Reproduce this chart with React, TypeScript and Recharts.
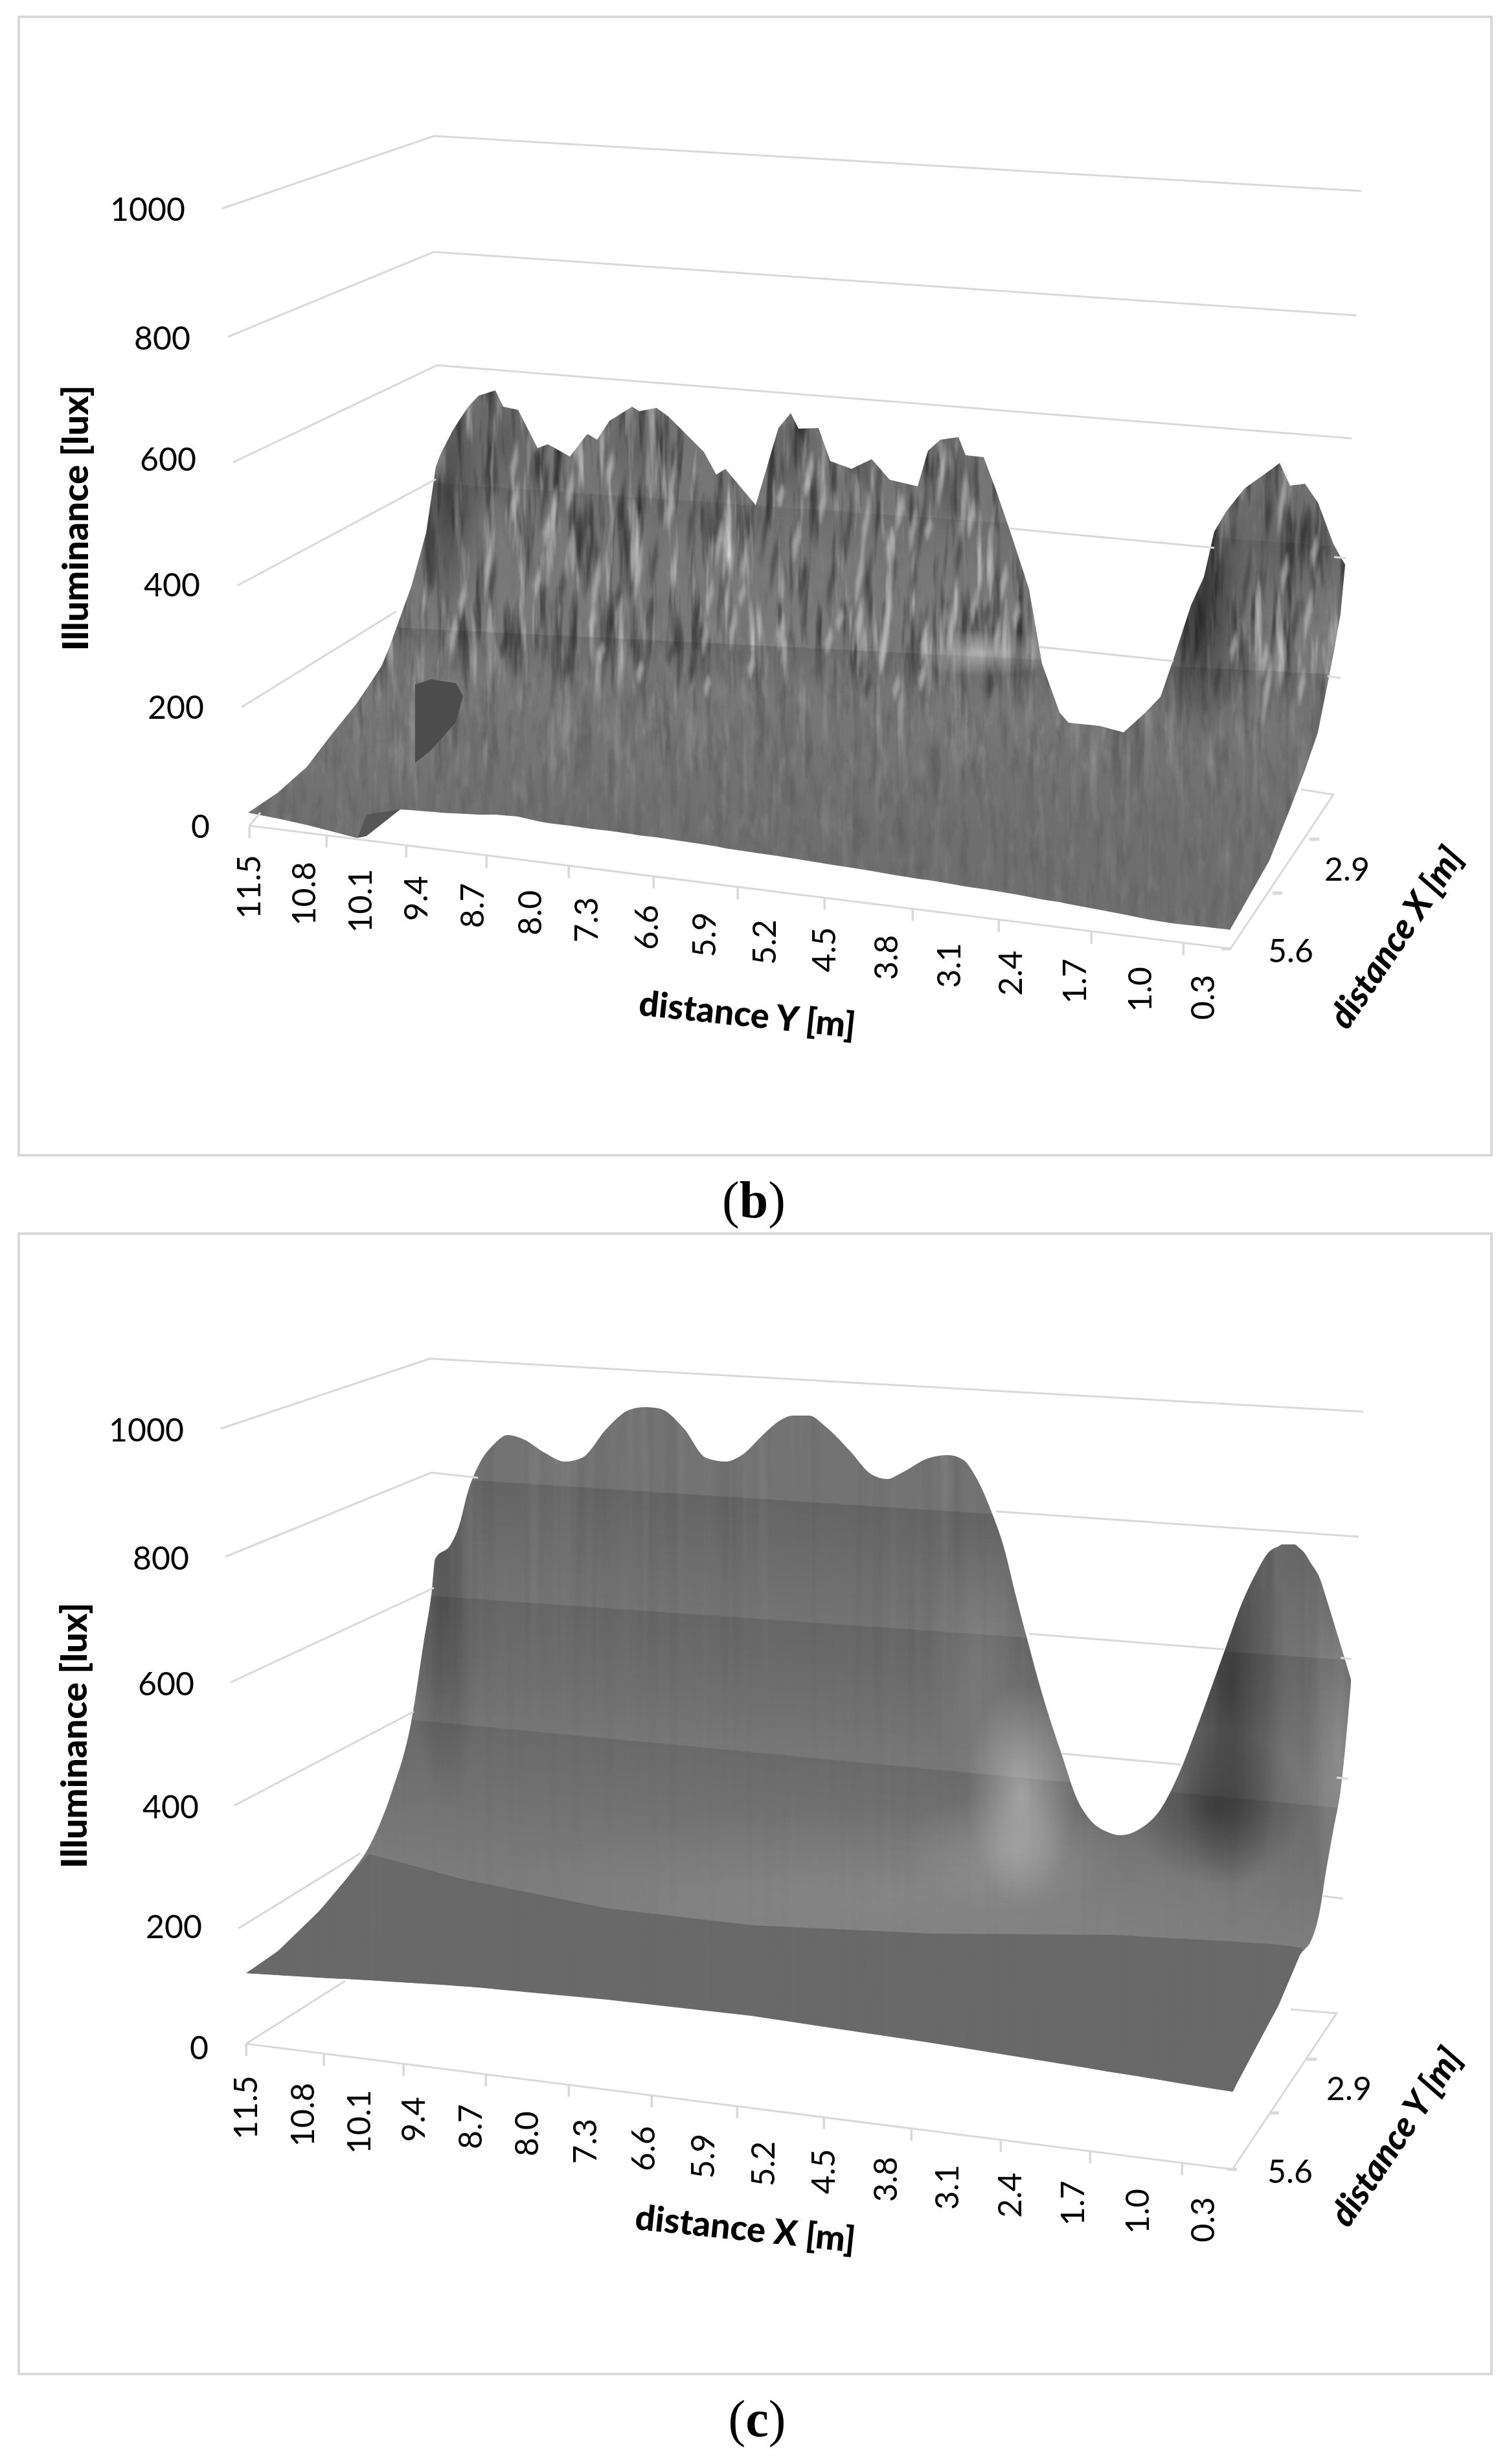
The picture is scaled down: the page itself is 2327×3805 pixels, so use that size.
import React from "react";
import { ComposedChart, Area, Line, Scatter, XAxis, YAxis } from "recharts";

// ---------- shared category labels ----------
const distanceLabels = ["11.5","10.8","10.1","9.4","8.7","8.0","7.3","6.6","5.9","5.2","4.5","3.8","3.1","2.4","1.7","1.0","0.3"];
const luxLabels = ["1000","800","600","400","200","0"];

// ---------- panel (b): projected surface outline ----------
const bX = [383,429,474,509,551,589,601,618,635,658,673,680,700,723,739,765,777,800,830,846,880,907,922,941,976,987,1014,1033,1087,1106,1120,1167,1202,1221,1233,1264,1282,1315,1346,1374,1417,1433,1452,1480,1491,1519,1538,1562,1589,1609,1636,1650,1698,1735,1769,1792,1812,1839,1859,1875,1894,1899,1922,1960,1976,1992,2015,2035,2059,2070,2077];
const bTop = [1255,1224,1184,1138,1086,1029,1000,953,906,823,721,702,663,628,611,603,628,633,692,686,705,670,679,650,628,635,630,644,698,733,724,780,661,638,662,661,712,724,709,741,751,696,679,675,703,706,757,827,910,1025,1100,1116,1121,1131,1100,1076,1018,935,891,821,789,783,754,727,715,750,747,776,840,860,872];
const bBottom = [1255,1264,1274,1283,1294,1269,1261,1250,1251,1253,1254,1255,1256,1257,1258,1258,1259,1261,1268,1271,1275,1279,1281,1283,1288,1290,1293,1296,1304,1307,1310,1317,1322,1325,1327,1332,1335,1340,1345,1350,1357,1359,1362,1367,1369,1373,1376,1380,1385,1389,1393,1396,1405,1412,1419,1423,1426,1429,1431,1433,1435,1436,1396,1329,1289,1249,1189,1131,1010,948,872];
const bNotchX = [641,666,704,715];
const bNotchTop = [1057,1049,1055,1075];
const bNotchBottom = [1178,1158,1115,1075];
const bWedgeX = [552,566,618];
const bWedgeTop = [1294,1258,1250];
const bWedgeBottom = [1294,1291,1250];
const bFacetsLight = [[794,718,60],[796,775,50],[754,874,84],[714,928,48],[700,979,48],[844,820,40],[855,788,64],[942,725,46],[982,849,90],[985,887,80],[920,906,84],[915,960,36],[1039,743,84],[1035,791,48],[1096,922,48],[1132,970,56],[1089,986,48],[1149,871,64],[1146,919,30],[1206,766,30],[1230,836,52],[1250,728,52],[1246,750,30],[1337,810,84],[1327,893,84],[1374,842,48],[1370,951,100],[1363,1011,48],[1427,992,56],[1471,963,84],[1410,817,56],[1454,737,84],[1434,817,30],[1504,938,48],[1206,976,48],[1297,957,30],[1384,1062,36],[1424,1046,36],[1092,1059,30],[988,1037,30],[928,1008,30],[1957,1063,84],[1980,776,84],[1984,884,52],[1953,1018,44],[1366,993,84],[1327,960,60],[1570,950,40],[1540,985,54],[880,760,50],[1110,840,60],[1270,780,50],[1390,790,44],[1500,800,50],[1550,900,50],[2020,950,60],[2030,850,40],[1905,1000,40],[2010,1060,50],[1280,990,36],[1160,1030,30],[830,900,40]];
const bFacetsDark = [[777,999,30],[841,765,84],[1069,798,100],[1109,815,100],[1183,810,100],[1310,823,120],[1424,810,100],[1002,951,48],[868,906,48],[955,919,36],[1069,1034,36],[875,1034,36],[1035,1011,30],[1283,903,64],[1196,865,84],[1524,948,30],[1925,900,90],[2000,960,64],[900,820,90],[960,780,80],[1010,870,70],[1240,900,60],[1410,900,60],[1480,860,70],[1960,800,70],[1880,1050,50],[760,900,70],[1120,900,60],[1340,1060,36],[1530,1060,30]];
const bBackLines = [
  [[343,322],[670,210],[2102,295]],
  [[352,520],[670,389],[2094,487]],
  [[360,714],[675,564],[2087,677]],
  [[367,904],[673,740]],
  [[1558,816],[1875,846]],
  [[2060,860],[2078,862]],
  [[373,1092],[612,944]],
  [[1605,999],[1812,1021]],
  [[2050,1044],[2070,1047]],
  [[385,1275],[1900,1465],[2059,1227],[2009,1219]],
  [[385,1275],[402,1255]],
];
const bStubX = [385,504,627,751,878,1009,1139,1273,1409,1542,1685,1827];
const bStubY = [1275,1290,1305,1321,1337,1353,1370,1386,1403,1420,1438,1456];
const bSideStubX = [2036,1979,1900];
const bSideStubY = [1296,1379,1465];
const bLuxPos = [323,522,709,903,1092,1276];
const bLuxEnd = [287,295,304,310,316,325];
const bLabelX = [385,470,557,643,730,819,906,999,1088,1181,1273,1369,1466,1561,1660,1761,1858];

// ---------- panel (c): projected surface outline ----------
const cX = [380,429,494,536,574,605,635,654,667,672,696,708,723,742,761,784,807,842,872,899,937,972,995,1018,1056,1090,1121,1144,1182,1202,1225,1249,1276,1311,1346,1370,1393,1433,1464,1487,1507,1530,1550,1569,1589,1609,1640,1663,1683,1710,1730,1757,1792,1820,1851,1882,1897,1903,1909,1937,1961,1974,1980,1999,2006,2015,2023,2039,2047,2059,2070,2086];
const cTop = [3047,3013,2950,2900,2844,2767,2659,2538,2455,2407,2385,2359,2302,2257,2232,2216,2222,2244,2257,2251,2206,2177,2173,2175,2206,2251,2257,2248,2212,2195,2186,2186,2204,2239,2277,2284,2274,2252,2247,2254,2281,2332,2389,2466,2542,2615,2711,2778,2810,2829,2834,2826,2794,2740,2660,2574,2532,2515,2498,2434,2395,2388,2385,2385,2390,2399,2412,2440,2465,2504,2540,2593];
const cBottom = [3047,3050,3054,3056,3058,3060,3062,3063,3064,3064,3066,3067,3068,3069,3071,3073,3075,3078,3080,3082,3086,3090,3093,3095,3100,3104,3107,3110,3116,3119,3122,3126,3130,3135,3140,3143,3146,3152,3157,3160,3163,3166,3170,3173,3176,3180,3185,3190,3194,3199,3202,3206,3212,3217,3222,3227,3229,3230,3219,3166,3121,3097,3083,3038,3021,3010,3000,2945,2893,2825,2765,2600];
const cLowBandX = [380,429,494,536,570,715,938,1161,1440,1719,1903,1974,2012];
const cLowBandTop = [3047,3013,2950,2900,2863,2902,2947,2973,2986,2988,2998,3003,3008];
const cLowBandBottom = [3047,3050,3054,3056,3058,3067,3088,3113,3155,3200,3230,3097,3008];
const cBackLines = [
  [[341,2206],[664,2098],[2105,2180]],
  [[348,2404],[666,2274],[738,2282]],
  [[1538,2334],[2098,2373]],
  [[356,2598],[670,2452]],
  [[1589,2523],[1890,2547]],
  [[2070,2560],[2087,2562]],
  [[362,2788],[639,2643]],
  [[1640,2708],[1824,2725]],
  [[2064,2745],[2082,2747]],
  [[368,2978],[556,2862]],
  [[2043,2928],[2074,2932]],
  [[380,3156],[1903,3350],[2064,3109],[1993,3103]],
  [[380,3156],[533,3059]],
];
const cStubX = [380,500,623,750,878,1006,1138,1272,1407,1545,1683,1825];
const cStubY = [3156,3171,3187,3203,3219,3235,3252,3269,3287,3304,3322,3340];
const cSideStubX = [2032,1974,1909];
const cSideStubY = [3180,3263,3350];
const cLuxPos = [2208,2406,2600,2790,2975,3162];
const cLuxEnd = [285,293,301,308,313,323];
const cLabelX = [380,468,555,639,727,814,904,994,1086,1179,1272,1368,1463,1560,1657,1757,1858];

const PAGE_W = 2327;
const GRID = "#d9d9d9";
const FONT = "Lato, 'Open Sans', sans-serif";
const Y_B = 0, H_B = 1900, Y_C = 1880, H_C = 1925;

const rows = (xs: number[], tops: number[], bottoms: number[]) =>
  xs.map((x, i) => ({ x, band: [tops[i], bottoms[i]] }));
const polyline = (pts: number[][]) => pts.map(([x, y]) => ({ x, y }));
const facets = (list: number[][]) => list.map(([x, y, len]) => ({ x, y, len }));
const pairs = (xs: number[], ys: number[]) => xs.map((x, i) => ({ x, y: ys[i] }));

function bandGrad(id: string, x0: number, y0: number, s: number, len: number, a: number) {
  const n = Math.sqrt(1 + s * s);
  const ux = -s / n, uy = 1 / n;
  return (
    <linearGradient key={id} id={id} gradientUnits="userSpaceOnUse"
      x1={x0 - ux * 2} y1={y0 - uy * 2} x2={x0 + ux * len} y2={y0 + uy * len}>
      <stop offset="0" stopColor="#000" stopOpacity="0" />
      <stop offset={2 / len} stopColor="#000" stopOpacity={a} />
      <stop offset="1" stopColor="#000" stopOpacity="0" />
    </linearGradient>
  );
}
function blob(id: string, cx: number, cy: number, rx: number, ry: number, color: string, a: number) {
  return (
    <radialGradient key={id} id={id} gradientUnits="userSpaceOnUse" cx="0" cy="0" r="1"
      gradientTransform={`translate(${cx} ${cy}) scale(${rx} ${ry})`}>
      <stop offset="0" stopColor={color} stopOpacity={a} />
      <stop offset="1" stopColor={color} stopOpacity="0" />
    </radialGradient>
  );
}
function noiseFilter(id: string, freq: string, seed: number, k: number, h: number, oct = 3) {
  return (
    <filter key={id} id={id} filterUnits="userSpaceOnUse" x="0" y="0" width={PAGE_W} height={h} colorInterpolationFilters="sRGB">
      <feTurbulence type="fractalNoise" baseFrequency={freq} numOctaves={oct} seed={seed} result="n" />
      <feColorMatrix in="n" type="matrix" result="dark" values={`0 0 0 0 0.1  0 0 0 0 0.1  0 0 0 0 0.1  ${k} 0 0 0 ${-k * 0.5}`} />
      <feColorMatrix in="n" type="matrix" result="light" values={`0 0 0 0 0.95  0 0 0 0 0.95  0 0 0 0 0.95  0 ${k} 0 0 ${-k * 0.56}`} />
      <feMerge result="m"><feMergeNode in="dark" /><feMergeNode in="light" /></feMerge>
      <feComposite in="m" in2="SourceAlpha" operator="in" />
    </filter>
  );
}

const Facet = (color: string, op: number, w: number) => (p: any) => {
  const { cx, cy, payload } = p;
  const h = payload.len * 0.68;
  const lean = h * 0.12;
  return (
    <polygon
      points={`${cx + lean},${cy - h} ${cx + w},${cy - h * 0.2} ${cx - lean},${cy + h} ${cx - w},${cy + h * 0.1}`}
      fill={color} fillOpacity={op} filter="url(#soft)" />
  );
};
const DownStub = (p: any) => <rect x={p.cx - 1.5} y={p.cy} width={3.5} height={19} fill={GRID} />;
const SideStub = (p: any) => <rect x={p.cx - 14} y={p.cy - 2.5} width={15} height={5} fill={GRID} />;

export default function App() {
  const bSurf = rows(bX, bTop, bBottom);
  const cSurf = rows(cX, cTop, cBottom);

  const xTick = (labelX: number[], top0: number, xRef: number, slope: number, y0: number) => (p: any) => {
    const i = labelX.indexOf(p.payload.value);
    const yy = top0 + (p.x - xRef) * slope - y0;
    return (
      <text transform={`translate(${p.x + 17} ${yy}) rotate(-90)`} textAnchor="end" fontFamily={FONT} fontSize={50} fill="#000">
        {distanceLabels[i]}
      </text>
    );
  };
  const yTick = (pos: number[], ends: number[]) => (p: any) => {
    const i = pos.indexOf(p.payload.value);
    return (
      <text x={ends[i]} y={p.y} dy={18} textAnchor="end" fontFamily={FONT} fontSize={50} fill="#000">
        {luxLabels[i]}
      </text>
    );
  };
  const label = (s: string, x: number, y: number) => (
    <text x={x} y={y} textAnchor="middle" fontFamily={FONT} fontSize={50} fill="#000">{s}</text>
  );
  const title = (s: string, x: number, y: number, rot: number, size: number, italic = false) => (
    <text transform={`translate(${x} ${y}) rotate(${rot})`} textAnchor="middle" fontFamily={FONT}
      fontWeight={900} fontStyle={italic ? "italic" : "normal"} fontSize={size} fill="#000">{s}</text>
  );
  const shade = (data: any[], fill: string, key: string, extra: any = {}) => (
    <Area key={key} data={data} dataKey="band" type={extra.curve || "linear"} stroke="none" fill={fill} fillOpacity={1}
      isAnimationActive={false} dot={false} activeDot={false} legendType="none" filter={extra.filter} />
  );
  const grid = (lines: number[][][], pre: string) =>
    lines.map((l, i) => (
      <Line key={pre + i} data={polyline(l)} dataKey="y" type="linear" stroke={GRID} strokeWidth={3}
        dot={false} activeDot={false} isAnimationActive={false} legendType="none" />
    ));

  const smooth = { curve: "monotoneX" };
  const c = (y: number) => y - Y_C;

  return (
    <div style={{ position: "absolute", left: 0, top: 0, width: PAGE_W, height: 3805, background: "#fff", overflow: "hidden" }}>
      <div style={{ position: "absolute", left: 27, top: 24, width: 2278, height: 1762, border: "4.5px solid #d9d9d9", boxSizing: "border-box" }} />
      <div style={{ position: "absolute", left: 27, top: 1903, width: 2278, height: 1765, border: "4.5px solid #d9d9d9", boxSizing: "border-box" }} />

      {/* ---------------- panel b ---------------- */}
      <div style={{ position: "absolute", left: -1, top: Y_B }}>
        <ComposedChart width={PAGE_W + 1} height={H_B + 1} margin={{ top: 0, right: 0, bottom: 0, left: 0 }}>
          <defs>
            <linearGradient id="bBase" gradientUnits="userSpaceOnUse" x1="0" y1="600" x2="0" y2="1300">
              <stop offset="0" stopColor="#747474" />
              <stop offset="0.6" stopColor="#7a7a7a" />
              <stop offset="1" stopColor="#6e6e6e" />
            </linearGradient>
            <linearGradient id="bFadeA" gradientUnits="userSpaceOnUse" x1="0" y1="620" x2="0" y2="1300">
              <stop offset="0" stopColor="#fff" stopOpacity="1" />
              <stop offset="0.55" stopColor="#fff" stopOpacity="0.85" />
              <stop offset="0.7" stopColor="#fff" stopOpacity="0.3" />
              <stop offset="1" stopColor="#fff" stopOpacity="0.1" />
            </linearGradient>
            <linearGradient id="bFadeB" gradientUnits="userSpaceOnUse" x1="0" y1="900" x2="0" y2="1400">
              <stop offset="0" stopColor="#fff" stopOpacity="0.15" />
              <stop offset="0.3" stopColor="#fff" stopOpacity="0.4" />
              <stop offset="1" stopColor="#fff" stopOpacity="0.25" />
            </linearGradient>
            {bandGrad("bB1", 636, 971, 0.05, 80, 0.12)}
            {bandGrad("bB2", 760, 753, 0.07, 80, 0.08)}
            {blob("bGlow", 1520, 1008, 120, 36, "#fff", 0.42)}
            {blob("bL1", 695, 770, 55, 200, "#000", 0.4)}
            {blob("bL2", 1855, 930, 75, 220, "#000", 0.55)}
            {blob("bL3", 1965, 830, 160, 180, "#000", 0.14)}
            {blob("bL4", 780, 680, 70, 110, "#000", 0.2)}
            {blob("bL5", 985, 690, 60, 90, "#000", 0.18)}
            {blob("bL6", 1230, 700, 45, 90, "#000", 0.25)}
            {blob("bL7", 1465, 730, 45, 90, "#000", 0.25)}
            {noiseFilter("bN1", "0.06 0.0065", 11, 2.2, H_B)}
            {noiseFilter("bN2", "0.07 0.02", 5, 1.0, H_B)}
            <filter id="soft" x="-120%" y="-30%" width="340%" height="160%"><feGaussianBlur stdDeviation="2.2" /></filter>
          </defs>
          <XAxis dataKey="x" type="number" domain={[0, PAGE_W]} height={1} ticks={bLabelX} interval={0} axisLine={false} tickLine={false}
            tick={xTick(bLabelX, 1320, 385, 0.1256, Y_B)} />
          <YAxis type="number" domain={[Y_B, Y_B + H_B]} reversed width={1} ticks={bLuxPos} interval={0} axisLine={false} tickLine={false}
            tick={yTick(bLuxPos, bLuxEnd)} />

          {grid(bBackLines, "bg")}
          {shade(bSurf, "url(#bBase)", "b0")}
          {shade(bSurf, "url(#bFadeA)", "b1", { filter: "url(#bN1)" })}
          {shade(bSurf, "url(#bFadeB)", "b2", { filter: "url(#bN2)" })}
          {["bB1","bB2","bL1","bL2","bL3","bL4","bL5","bL6","bL7","bGlow"].map((id) => shade(bSurf, `url(#${id})`, id))}
          {shade(rows(bNotchX, bNotchTop, bNotchBottom), "#4c4c4c", "bn")}
          {shade(rows(bWedgeX, bWedgeTop, bWedgeBottom), "#565656", "bw")}

          <Scatter data={facets(bFacetsDark)} dataKey="y" shape={Facet("#333", 0.5, 6)} isAnimationActive={false} legendType="none" />
          <Scatter data={facets(bFacetsLight)} dataKey="y" shape={Facet("#c0c0c0", 0.62, 6)} isAnimationActive={false} legendType="none" />
          <Scatter data={pairs(bStubX, bStubY)} dataKey="y" shape={DownStub} isAnimationActive={false} legendType="none" />
          <Scatter data={pairs(bSideStubX, bSideStubY)} dataKey="y" shape={SideStub} isAnimationActive={false} legendType="none" />

          {label("2.9", 2081, 1360)}
          {label("5.6", 1994, 1486)}
          <text transform="translate(137 800) rotate(-90)" textAnchor="middle" fontFamily={FONT} fontWeight={900} fontSize={56} fill="#000">Illuminance [lux]</text>
          {title("distance Y [m]", 1153, 1585, 6, 54)}
          {title("distance X [m]", 2172, 1458, -56, 54, true)}
          <text x={1165} y={1880} textAnchor="middle" fontFamily="'Liberation Serif', serif" fontSize={80} fill="#000">(<tspan fontWeight={700}>b</tspan>)</text>
        </ComposedChart>
      </div>

      {/* ---------------- panel c ---------------- */}
      <div style={{ position: "absolute", left: -1, top: Y_C }}>
        <ComposedChart width={PAGE_W + 1} height={H_C + 1} margin={{ top: 0, right: 0, bottom: 0, left: 0 }}>
          <defs>
            <linearGradient id="cBase" gradientUnits="userSpaceOnUse" x1="0" y1={c(2180)} x2="0" y2={c(3000)}>
              <stop offset="0" stopColor="#737373" />
              <stop offset="0.5" stopColor="#747474" />
              <stop offset="1" stopColor="#7e7e7e" />
            </linearGradient>
            <linearGradient id="cFade" gradientUnits="userSpaceOnUse" x1="0" y1={c(2180)} x2="0" y2={c(3000)}>
              <stop offset="0" stopColor="#fff" stopOpacity="0.7" />
              <stop offset="0.25" stopColor="#fff" stopOpacity="0.6" />
              <stop offset="0.6" stopColor="#fff" stopOpacity="0.22" />
              <stop offset="1" stopColor="#fff" stopOpacity="0.08" />
            </linearGradient>
            {bandGrad("cB4", 765, c(2289), 0.065, 190, 0.13)}
            {bandGrad("cB3", 704, c(2468), 0.07, 200, 0.12)}
            {bandGrad("cB2", 681, c(2661), 0.095, 220, 0.11)}
            {blob("cDk1", 690, c(2480), 55, 320, "#000", 0.24)}
            {blob("cDk2", 1900, c(2600), 90, 330, "#000", 0.42)}
            {blob("cDk3", 1880, c(2790), 135, 120, "#000", 0.34)}
            {blob("cLt1", 2065, c(2700), 45, 260, "#fff", 0.18)}
            {blob("cLt2", 1578, c(2770), 85, 170, "#fff", 0.36)}
            {blob("cLt5", 1560, c(2860), 170, 95, "#fff", 0.14)}
            {blob("cLt3", 1400, c(2920), 620, 130, "#fff", 0.08)}
            {blob("cLt4", 1510, c(2560), 80, 200, "#fff", 0.1)}
            {blob("cDk5", 560, c(2960), 130, 150, "#000", 0.1)}
            {noiseFilter("cN", "0.06 0.0012", 3, 0.32, H_C + 20, 2)}
          </defs>
          <XAxis dataKey="x" type="number" domain={[0, PAGE_W]} height={1} ticks={cLabelX} interval={0} axisLine={false} tickLine={false}
            tick={xTick(cLabelX, 3205, 380, 0.127, Y_C)} />
          <YAxis type="number" domain={[Y_C, Y_C + H_C]} reversed width={1} ticks={cLuxPos} interval={0} axisLine={false} tickLine={false}
            tick={yTick(cLuxPos, cLuxEnd)} />

          {grid(cBackLines, "cg")}
          {shade(cSurf, "url(#cBase)", "c0", smooth)}
          {["cB4","cB3","cB2","cLt3","cLt4","cDk1","cDk2","cDk3","cLt1","cLt2","cLt5"].map((id) => shade(cSurf, `url(#${id})`, id, smooth))}
          {shade(rows(cLowBandX, cLowBandTop, cLowBandBottom), "#696969", "cl")}
          {shade(cSurf, "url(#cFade)", "cs", { filter: "url(#cN)", curve: "monotoneX" })}

          <Scatter data={pairs(cStubX, cStubY)} dataKey="y" shape={DownStub} isAnimationActive={false} legendType="none" />
          <Scatter data={pairs(cSideStubX, cSideStubY)} dataKey="y" shape={SideStub} isAnimationActive={false} legendType="none" />

          {label("2.9", 2084, 3243 - Y_C)}
          {label("5.6", 1993, 3371 - Y_C)}
          <text transform={`translate(135 ${2680 - Y_C}) rotate(-90)`} textAnchor="middle" fontFamily={FONT} fontWeight={900} fontSize={56} fill="#000">Illuminance [lux]</text>
          {title("distance X [m]", 1150, 3460 - Y_C, 6, 54)}
          {title("distance Y [m]", 2172, 3310 - Y_C, -56, 54, true)}
          <text x={1170} y={3762 - Y_C} textAnchor="middle" fontFamily="'Liberation Serif', serif" fontSize={80} fill="#000">(<tspan fontWeight={700}>c</tspan>)</text>
        </ComposedChart>
      </div>
    </div>
  );
}
